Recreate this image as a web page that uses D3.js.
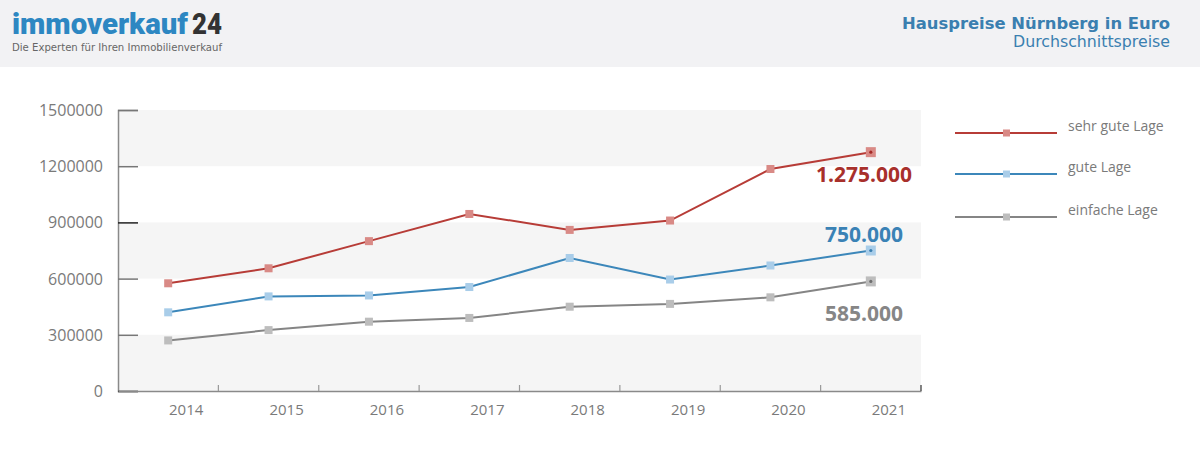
<!DOCTYPE html>
<html>
<head>
<meta charset="utf-8">
<script src="https://cdn.jsdelivr.net/npm/d3@7/dist/d3.min.js"></script>
<style>
  html, body { margin: 0; padding: 0; background: #fff; }
  svg { display: block; }
  text { font-family: "Open Sans", "Noto Sans", sans-serif; }
  .hdr { font-family: "DejaVu Sans", sans-serif; }
  .logo { font-family: Roboto, sans-serif; }
</style>
</head>
<body>
<svg id="chart" width="1200" height="463"></svg>
<script>
const years = ["2014", "2015", "2016", "2017", "2018", "2019", "2020", "2021"];
const sehrGuteLage = [575000, 655000, 800000, 945000, 860000, 910000, 1185000, 1275000];
const guteLage = [420000, 505000, 510000, 555000, 710000, 595000, 670000, 750000];
const einfacheLage = [270000, 325000, 370000, 390000, 450000, 465000, 500000, 585000];
const yTicks = [0, 300000, 600000, 900000, 1200000, 1500000];
const seriesNames = ["sehr gute Lage", "gute Lage", "einfache Lage"];
const endLabels = ["1.275.000", "750.000", "585.000"];

const series = [
  { name: seriesNames[0], values: sehrGuteLage, line: "#b73c37", marker: "#d98a86", dot: "#a52a26", label: endLabels[0], labelColor: "#a8302b", labelDy: 30 },
  { name: seriesNames[1], values: guteLage, line: "#3c87ba", marker: "#a9cde9", dot: "#3a7fb0", label: endLabels[1], labelColor: "#3a82b5", labelDy: -9 },
  { name: seriesNames[2], values: einfacheLage, line: "#858585", marker: "#bdbdbd", dot: "#6f6f6f", label: endLabels[2], labelColor: "#868686", labelDy: 40 }
];

const svg = d3.select("#chart");

// Header
svg.append("rect").attr("x", 0).attr("y", 0).attr("width", 1200).attr("height", 67).attr("fill", "#f2f2f4");
svg.append("text").attr("class", "logo").attr("x", 12).attr("y", 33.5)
  .attr("font-size", 29).attr("font-weight", 900).attr("fill", "#2d87c2")
  .attr("textLength", 176).attr("lengthAdjust", "spacingAndGlyphs").text("immoverkauf");
svg.append("text").attr("class", "logo").attr("x", 192).attr("y", 33.5)
  .attr("font-size", 29).attr("font-weight", 900).attr("fill", "#333")
  .attr("textLength", 30).attr("lengthAdjust", "spacingAndGlyphs").text("24");
svg.append("text").attr("class", "hdr").attr("x", 12).attr("y", 50.5).attr("font-size", 10.5).attr("fill", "#666")
  .attr("textLength", 210).attr("lengthAdjust", "spacingAndGlyphs")
  .text("Die Experten für Ihren Immobilienverkauf");
svg.append("text").attr("class", "hdr").attr("x", 1170).attr("y", 28.5).attr("text-anchor", "end").attr("font-size", 16)
  .attr("font-weight", 700).attr("fill", "#3a7fb0")
  .attr("textLength", 268).attr("lengthAdjust", "spacingAndGlyphs").text("Hauspreise Nürnberg in Euro");
svg.append("text").attr("class", "hdr").attr("x", 1170).attr("y", 47).attr("text-anchor", "end").attr("font-size", 16)
  .attr("fill", "#3a7fb0").attr("textLength", 157).attr("lengthAdjust", "spacingAndGlyphs").text("Durchschnittspreise");

// Scales
const x = d3.scaleBand().domain(years).range([118, 921]);
const y = d3.scaleLinear().domain([0, 1500000]).range([391, 110]);

// Bands
for (let i = 0; i < yTicks.length - 1; i++) {
  if (i % 2 === 0) {
    svg.append("rect").attr("x", 118).attr("width", 921 - 118)
      .attr("y", y(yTicks[i + 1])).attr("height", y(yTicks[i]) - y(yTicks[i + 1]))
      .attr("fill", "#f5f5f5");
  }
}

// Y axis
const yAxis = svg.append("g").attr("transform", "translate(118,0)")
  .call(d3.axisRight(y).tickValues(yTicks).tickSize(20).tickFormat(""));
yAxis.select(".domain").attr("stroke", "#8a8a8a").attr("stroke-width", 1.5);
yAxis.selectAll(".tick line").attr("stroke", (d) => (d === 0 || d === 900000) ? "#222" : "#777").attr("stroke-width", 1.5);
svg.append("g").selectAll("text").data(yTicks).join("text")
  .attr("x", 103).attr("y", d => y(d) + 6).attr("text-anchor", "end")
  .attr("font-size", 16).attr("fill", "#7a7a7a").text(d => d);

// X axis
const xAxis = svg.append("g").attr("transform", "translate(0,391)")
  .call(d3.axisTop(x).tickSize(0).tickFormat(""));
xAxis.select(".domain").attr("stroke", "#8a8a8a").attr("stroke-width", 1.5);
svg.append("g").selectAll("line").data(years).join("line")
  .attr("x1", d => x(d) + x.bandwidth()).attr("x2", d => x(d) + x.bandwidth())
  .attr("y1", 391).attr("y2", 385).attr("stroke", (d, i) => i === years.length - 1 ? "#333" : "#999").attr("stroke-width", 1.2);
svg.append("g").selectAll("text").data(years).join("text")
  .attr("x", d => x(d) + x.bandwidth() / 2 + 18).attr("y", 415).attr("text-anchor", "middle")
  .attr("font-size", 15).attr("fill", "#7a7a7a").text(d => d);

// Lines
const line = d3.line().x((d, i) => x(years[i]) + x.bandwidth() / 2).y(d => y(d));
series.forEach(s => {
  svg.append("path").attr("d", line(s.values)).attr("fill", "none")
    .attr("stroke", s.line).attr("stroke-width", 2);
  const last = s.values.length - 1;
  svg.append("g").selectAll("rect").data(s.values).join("rect")
    .attr("x", (d, i) => x(years[i]) + x.bandwidth() / 2 - (i === last ? 5 : 4))
    .attr("y", (d, i) => y(d) - (i === last ? 5 : 4))
    .attr("width", (d, i) => i === last ? 10 : 8)
    .attr("height", (d, i) => i === last ? 10 : 8)
    .attr("fill", s.marker);
  svg.append("circle").attr("cx", x(years[last]) + x.bandwidth() / 2).attr("cy", y(s.values[last]))
    .attr("r", 1.6).attr("fill", s.dot);
  svg.append("text").attr("x", 864).attr("y", y(s.values[last]) + s.labelDy)
    .attr("text-anchor", "middle").attr("font-size", 21).attr("font-weight", 700)
    .attr("fill", s.labelColor).text(s.label);
});

// Legend
const legendY = [133, 174, 217];
series.forEach((s, i) => {
  const g = svg.append("g");
  g.append("line").attr("x1", 955).attr("x2", 1057).attr("y1", legendY[i]).attr("y2", legendY[i])
    .attr("stroke", s.line).attr("stroke-width", 2);
  g.append("rect").attr("x", 1003).attr("y", legendY[i] - 3.5).attr("width", 7).attr("height", 7).attr("fill", s.marker);
  g.append("text").attr("x", 1068).attr("y", legendY[i] - 2).attr("font-size", 14).attr("fill", "#7a7a7a").text(s.name);
});
</script>
</body>
</html>
